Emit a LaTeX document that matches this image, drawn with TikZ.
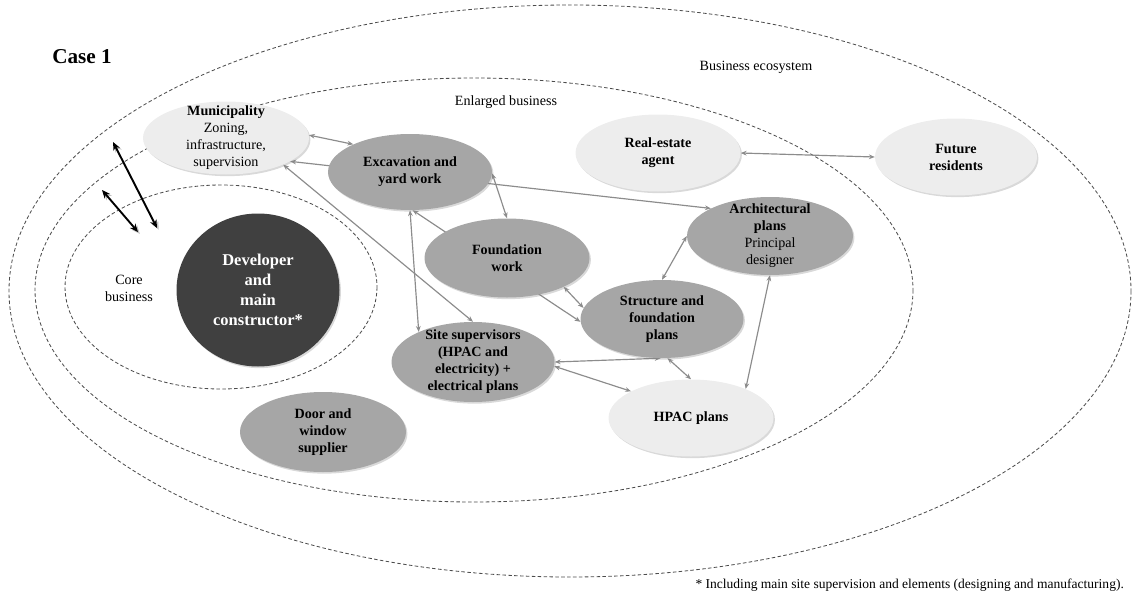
\documentclass[tikz,border=0pt]{standalone}
\usepackage{fontspec}
\setmainfont{Liberation Serif}
\usetikzlibrary{shapes.geometric, arrows.meta, shadows, backgrounds}
\tikzset{
    zone/.style={draw=black!70, dash pattern=on 3pt off 2pt, line width=0.7pt},
    dims/.style 2 args={minimum width=#1*0.85pt, minimum height=#2*0.85pt},
    actor/.style={ellipse, inner sep=0pt, drop shadow={shadow xshift=1.2pt, shadow yshift=-1.4pt, opacity=0.3}},
    pale/.style={actor, fill=black!7},
    mid/.style={actor, fill=black!35},
    dark/.style={actor, fill=black!75},
    tag/.style={align=center, font=\fontsize{12}{14.5}\selectfont\bfseries},
    plain/.style={align=center, font=\fontsize{12}{14.5}\selectfont},
    link/.style={{Stealth[length=5pt,width=4pt]}-{Stealth[length=5pt,width=4pt]}, draw=black!45, line width=1pt},
    heavy link/.style={{Stealth[length=7pt,width=6pt]}-{Stealth[length=7pt,width=6pt]}, draw=black, line width=1.6pt,
        preaction={draw=black!25, transform canvas={shift={(1.5pt,-1.5pt)}}}},
}
\begin{document}
\begin{tikzpicture}[x=0.85pt, y=-0.85pt]
    \useasboundingbox (0,0) rectangle (1132,599);

    % actors
    \node[pale, dims={166}{73}] (mun) at (226,138) {};
    \node[mid, dims={164}{76}] (exc) at (410,172) {};
    \node[mid, dims={165}{79}] (fnd) at (507,258) {};
    \node[mid, dims={163}{78}] (str) at (662,319) {};
    \node[mid, dims={166}{78}] (arch) at (770,236) {};
    \node[pale, dims={165}{77}] (real) at (658,153) {};
    \node[pale, dims={162}{77}] (fut) at (956,157) {};
    \node[mid, dims={163}{80}] (site) at (473,362) {};
    \node[pale, dims={165}{77}] (hpac) at (691,418) {};
    \node[mid, dims={166}{80}] (door) at (323,432) {};
    \node[dark, dims={163}{153}] (dev) at (258,290) {};

    \node[tag] (mun-t) at (mun) {Municipality\\\mdseries Zoning,\\\mdseries infrastructure,\\\mdseries supervision};
    \node[tag] (exc-t) at (exc) {Excavation and\\yard work};
    \node[tag] (fnd-t) at (fnd) {Foundation\\work};
    \node[tag] (str-t) at (str) {Structure and\\foundation\\plans};
    \node[tag] (arch-t) at (arch) {Architectural\\plans\\\mdseries Principal\\\mdseries designer};
    \node[tag] (real-t) at (real) {Real-estate\\agent};
    \node[tag] (fut-t) at (fut) {Future\\residents};
    \node[tag] (site-t) at (site) {Site supervisors\\(HPAC and\\electricity) +\\electrical plans};
    \node[tag] (hpac-t) at (hpac) {HPAC plans};
    \node[tag] (door-t) at (door) {Door and\\window\\supplier};
    \node[tag, text=white, font=\fontsize{14}{17}\selectfont\bfseries] (dev-t) at (dev) {Developer\\and\\main\\constructor*};

    % labels
    \node[font=\fontsize{18}{20}\selectfont\bfseries] (case) at (82,57) {Case 1};
    \node[plain] (eco) at (756,67) {Business ecosystem};
    \node[plain] (enl) at (506,102) {Enlarged business};
    \node[plain] (core) at (129,288) {Core\\business};
    \node[plain, font=\fontsize{11.5}{13}\selectfont, anchor=east] (note) at (1128,585)
        {* Including main site supervision and elements (designing and manufacturing).};

    \coordinate (a1) at (113,142);
    \coordinate (a2) at (157,228);
    \coordinate (b1) at (102,190);
    \coordinate (b2) at (138,232);

    \begin{scope}[on background layer]
        \draw[zone] (570,291) ellipse [x radius=561, y radius=286];
        \draw[zone] (474,290) ellipse [x radius=439, y radius=212];
        \draw[zone] (221,287) ellipse [x radius=156, y radius=102];

        \draw[link] (mun.2) -- (exc.154);
        \draw[link] (mun.-20) -- (arch.155);
        \draw[link] (mun.-25) -- (site.north);
        \draw[link] (exc.-1) -- (fnd.north);
        \draw[link] (exc.-86) -- (str.182);
        \draw[link] (fnd.-27) -- (str.172);
        \draw[link] (exc.south) -- (site.151);
        \draw[link] (str.north) -- (arch.west);
        \draw[link] (arch.south) -- (hpac.28);
        \draw[link] (site.east) -- (str.-92);
        \draw[link] (site.-3) -- (hpac.156);
        \draw[link] (str.-82) -- (hpac.north);
        \draw[link] (real.east) -- (fut.west);
    \end{scope}

    \draw[heavy link] (a1) -- (a2);
    \draw[heavy link] (b1) -- (b2);
\end{tikzpicture}
\end{document}
